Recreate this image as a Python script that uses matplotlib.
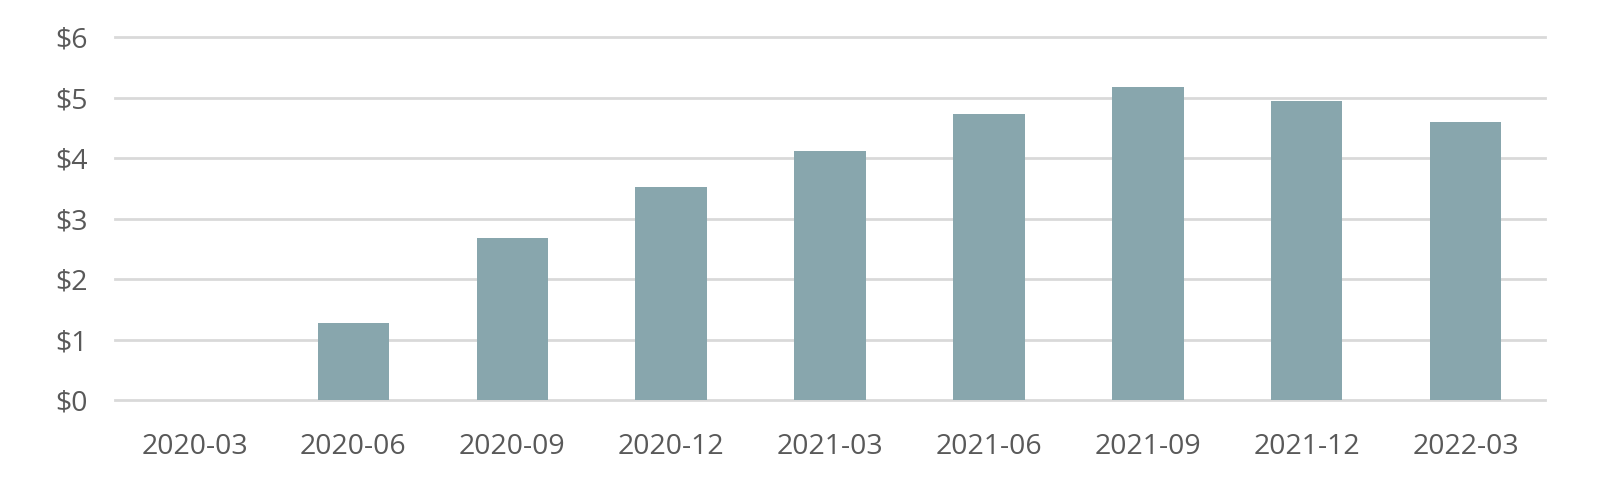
import matplotlib.pyplot as plt
import numpy as np

# --- Data ---
quarters = ["2020-03", "2020-06", "2020-09", "2020-12", "2021-03",
            "2021-06", "2021-09", "2021-12", "2022-03"]
values = [0.0, 1.28, 2.68, 3.52, 4.12, 4.73, 5.18, 4.95, 4.60]
y_ticks = [0, 1, 2, 3, 4, 5, 6]

plt.rcParams["font.family"] = ["Open Sans", "DejaVu Sans"]

# --- Canvas ---
fig = plt.figure(figsize=(16.14, 5.04), dpi=100)
ax = fig.add_axes([0.0713, 0.2063, 0.886, 0.7197])

x = np.arange(len(quarters))
ax.bar(x, values, width=0.45, color="#88A6AD", zorder=3)

# --- Axes styling ---
ax.set_xlim(-0.5, len(quarters) - 0.5)
ax.set_ylim(0, 6)
ax.set_yticks(y_ticks)
ax.set_yticklabels([f"${v}" for v in y_ticks])
ax.set_xticks(x)
ax.set_xticklabels(quarters)

ax.grid(axis="y", color="#D9D9D9", linewidth=2.0, zorder=0)
# keep the top and bottom gridlines full width (not clipped at the edge)
for line in ax.get_ygridlines():
    line.set_clip_on(False)
for s in ax.spines.values():
    s.set_visible(False)
ax.tick_params(axis="both", length=0, labelsize=20.5, labelcolor="#595959")
ax.tick_params(axis="y", pad=20)
ax.tick_params(axis="x", pad=24)
ax.set_axisbelow(True)

fig.savefig("out.png", dpi=100)
